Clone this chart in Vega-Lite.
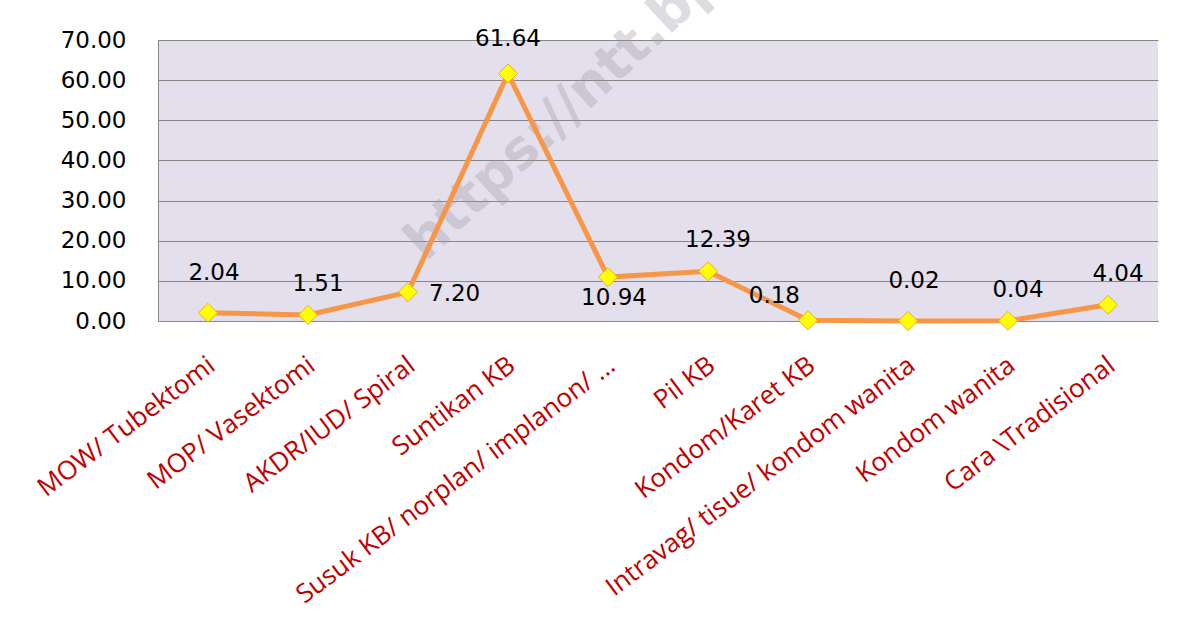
{
  "$schema": "https://vega.github.io/schema/vega-lite/v6.json",
  "width": 1000,
  "height": 281,
  "autosize": "none",
  "padding": {"left": 158, "top": 40, "right": 22, "bottom": 302},
  "background": "white",
  "config": {"view": {"fill": "#E4DFEC", "stroke": null}},
  "data": {"values": [
    {"metode": "MOW/ Tubektomi", "persen": 2.04},
    {"metode": "MOP/ Vasektomi", "persen": 1.51},
    {"metode": "AKDR/IUD/ Spiral", "persen": 7.20},
    {"metode": "Suntikan KB", "persen": 61.64},
    {"metode": "Susuk KB/ norplan/ implanon/ ...", "persen": 10.94},
    {"metode": "Pil KB", "persen": 12.39},
    {"metode": "Kondom/Karet KB", "persen": 0.18},
    {"metode": "Intravag/ tisue/ kondom wanita", "persen": 0.02},
    {"metode": "Kondom wanita", "persen": 0.04},
    {"metode": "Cara \\Tradisional", "persen": 4.04}
  ]},
  "encoding": {
    "x": {
      "field": "metode", "type": "nominal", "sort": null,
      "scale": {"type": "band", "paddingInner": 0, "paddingOuter": 0,
        "domain": ["MOW/ Tubektomi", "MOP/ Vasektomi", "AKDR/IUD/ Spiral", "Suntikan KB", "Susuk KB/ norplan/ implanon/ ...", "Pil KB", "Kondom/Karet KB", "Intravag/ tisue/ kondom wanita", "Kondom wanita", "Cara \\Tradisional"]},
      "axis": {
        "title": null, "ticks": false, "grid": false, "domainColor": "#868686",
        "labelAngle": -37, "labelAlign": "right", "labelBaseline": "middle",
        "labelFont": "Open Sans", "labelFontSize": 26, "labelColor": "#C00000",
        "labelPadding": 41, "labelOffset": 4, "labelLimit": 0,
        "labelOverlap": false, "labelBound": false
      }
    },
    "y": {
      "field": "persen", "type": "quantitative",
      "scale": {"domain": [0, 70], "nice": false},
      "axis": {
        "title": null, "values": [0, 10, 20, 30, 40, 50, 60, 70], "format": ".2f",
        "labelFont": "DejaVu Sans", "labelFontSize": 23, "labelColor": "black",
        "ticks": false, "labelPadding": 32, "domainColor": "#868686",
        "grid": true, "gridColor": "#868686", "gridWidth": 1
      }
    }
  },
  "layer": [
    {
      "transform": [{"filter": "datum.metode === 'AKDR/IUD/ Spiral'"}],
      "mark": {"type": "text", "text": "https://ntt.bps.go.id", "angle": -43, "align": "left", "baseline": "alphabetic",
               "font": "DejaVu Sans", "fontWeight": "bold", "fontSize": 54, "fill": "#9A96A0", "opacity": 0.32, "dx": 24},
      "encoding": {"y": {"datum": 10.5}}
    },
    {"mark": {"type": "line", "color": "#F79646", "strokeWidth": 5}, "encoding": {}},
    {"mark": {"type": "point", "shape": "diamond", "filled": true, "fill": "#FFFF00", "stroke": "#F5A623", "strokeWidth": 1, "size": 360, "opacity": 1}, "encoding": {}},
    {
      "transform": [{"filter": {"field": "metode", "oneOf": ["MOP/ Vasektomi", "Pil KB", "Kondom wanita", "Cara \\Tradisional"]}}],
      "mark": {"type": "text", "font": "DejaVu Sans", "fontSize": 23, "color": "black", "baseline": "middle", "align": "center", "dx": 10, "dy": -31},
      "encoding": {"text": {"field": "persen", "type": "quantitative", "format": ".2f"}}
    },
    {
      "transform": [{"filter": {"field": "metode", "oneOf": ["Suntikan KB"]}}],
      "mark": {"type": "text", "font": "DejaVu Sans", "fontSize": 23, "color": "black", "baseline": "middle", "align": "center", "dx": 0, "dy": -35},
      "encoding": {"text": {"field": "persen", "type": "quantitative", "format": ".2f"}}
    },
    {
      "transform": [{"filter": {"field": "metode", "oneOf": ["MOW/ Tubektomi", "Intravag/ tisue/ kondom wanita"]}}],
      "mark": {"type": "text", "font": "DejaVu Sans", "fontSize": 23, "color": "black", "baseline": "middle", "align": "center", "dx": 6, "dy": -40},
      "encoding": {"text": {"field": "persen", "type": "quantitative", "format": ".2f"}}
    },
    {
      "transform": [{"filter": {"field": "metode", "oneOf": ["AKDR/IUD/ Spiral"]}}],
      "mark": {"type": "text", "font": "DejaVu Sans", "fontSize": 23, "color": "black", "baseline": "middle", "align": "left", "dx": 21, "dy": 2},
      "encoding": {"text": {"field": "persen", "type": "quantitative", "format": ".2f"}}
    },
    {
      "transform": [{"filter": {"field": "metode", "oneOf": ["Susuk KB/ norplan/ implanon/ ..."]}}],
      "mark": {"type": "text", "font": "DejaVu Sans", "fontSize": 23, "color": "black", "baseline": "middle", "align": "center", "dx": 6, "dy": 21},
      "encoding": {"text": {"field": "persen", "type": "quantitative", "format": ".2f"}}
    },
    {
      "transform": [{"filter": {"field": "metode", "oneOf": ["Kondom/Karet KB"]}}],
      "mark": {"type": "text", "font": "DejaVu Sans", "fontSize": 23, "color": "black", "baseline": "middle", "align": "right", "dx": -8, "dy": -24},
      "encoding": {"text": {"field": "persen", "type": "quantitative", "format": ".2f"}}
    }
  ]
}
